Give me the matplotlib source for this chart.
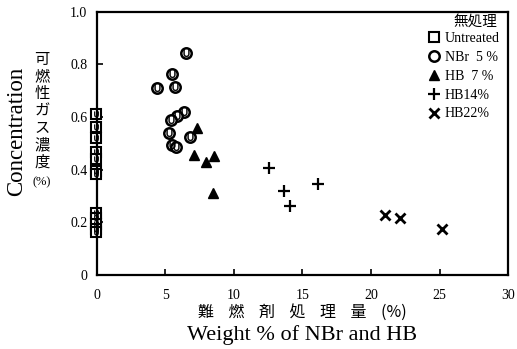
import numpy as np
import matplotlib.pyplot as plt

# Data
untreated_x = [-0.1] * 12
untreated_y = [0.613, 0.563, 0.521, 0.467, 0.441, 0.395, 0.383, 0.234, 0.215, 0.195, 0.176, 0.165]

nbr_x = [6.5, 5.45, 4.35, 5.67, 6.35, 5.82, 5.38, 5.26, 6.79, 5.47, 5.77]
nbr_y = [0.844, 0.765, 0.711, 0.715, 0.62, 0.603, 0.59, 0.538, 0.525, 0.493, 0.487]

hb7_x = [7.27, 7.08, 7.98, 8.56, 8.49]
hb7_y = [0.557, 0.455, 0.428, 0.451, 0.310]

hb14_x = [12.53, 13.65, 14.06, 16.1]
hb14_y = [0.407, 0.318, 0.263, 0.346]

hb22_x = [21.0, 22.1, 25.2]
hb22_y = [0.229, 0.218, 0.174]

x_ticks = [0, 5, 10, 15, 20, 25, 30]
y_ticks = [0, 0.2, 0.4, 0.6, 0.8, 1.0]
y_tick_labels = ['0', '0.2', '0.4', '0.6', '0.8', '1.0']

serif = ['Liberation Serif', 'DejaVu Serif']
jp = ['Noto Sans CJK JP', 'DejaVu Sans']

plt.rcParams['font.family'] = serif

fig = plt.figure(figsize=(5.17, 3.49), dpi=100)
ax = fig.add_axes([0.1876, 0.212, 0.795, 0.754])

ax.plot(untreated_x, untreated_y, 's', ms=6.5, mfc='white', mec='black', mew=1.5,
        label='Untreated', clip_on=False)
ax.plot(nbr_x, nbr_y, 'o', ms=7.5, mfc='white', mec='black', mew=1.8, label='NBr  5 %')
ax.plot(hb7_x, hb7_y, '^', ms=7, color='black', label='HB  7 %')
ax.plot(hb14_x, hb14_y, '+', ms=8, color='black', mew=1.6, label='HB14%')
ax.plot(hb22_x, hb22_y, 'x', ms=7, color='black', mew=2.0, label='HB22%')

# small inner marks inside the open symbols
ax.plot(nbr_x, nbr_y, marker='$\\cup$', ls='none', ms=5, color='black', mew=0.3)
ax.plot(untreated_x, untreated_y, marker='$\\cup$', ls='none', ms=4, color='black',
        mew=0.3, clip_on=False)

ax.set_xlim(0, 30)
ax.set_ylim(0, 1.0)
ax.set_xticks(x_ticks)
ax.set_yticks(y_ticks)
ax.set_yticklabels(y_tick_labels)
ax.tick_params(direction='in', length=4, width=1.2, labelsize=10, pad=7)
ax.tick_params(axis='x', pad=10)
for s in ax.spines.values():
    s.set_linewidth(1.6)

leg = ax.legend(loc='upper right', bbox_to_anchor=(1.0, 0.955), frameon=False,
                fontsize=10, handlelength=0.8, handletextpad=0.4,
                labelspacing=0.42, borderaxespad=0.2)
ax.text(0.973, 0.985, '無処理', transform=ax.transAxes, ha='right', va='top',
        fontsize=10.5, family=jp)

# axis labels
fig.text(0.033, 0.625, 'Concentration', rotation=90, ha='center', va='center', fontsize=16.5)
fig.text(0.081, 0.682, '\n'.join('可燃性ガス濃度'), ha='center', va='center',
         fontsize=11, family=jp, linespacing=1.0)
fig.text(0.081, 0.479, '(%)', ha='center', va='center', fontsize=9)
fig.text(0.585, 0.106, '難    燃    剤    処    理    量    (%)', ha='center', va='center',
         fontsize=11.5, family=jp)
fig.text(0.585, 0.04, 'Weight % of NBr and HB', ha='center', va='center', fontsize=16)

fig.savefig('out.png', dpi=100)
